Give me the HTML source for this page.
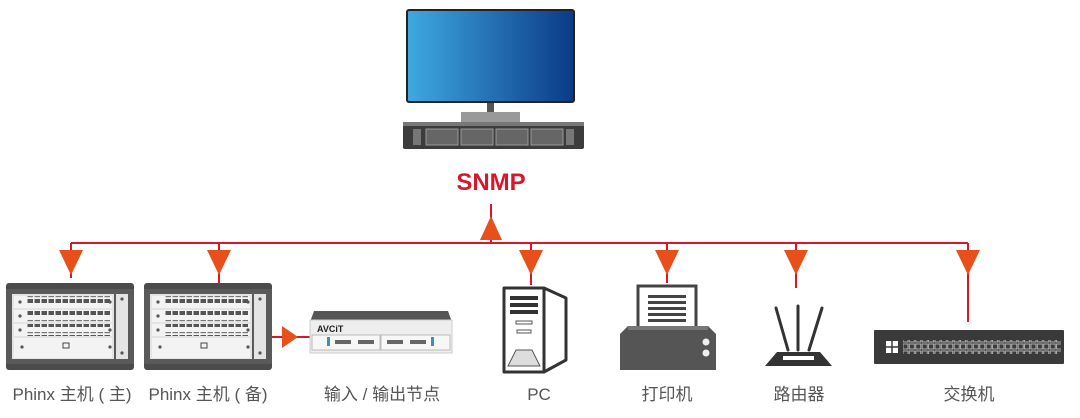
<!DOCTYPE html>
<html><head><meta charset="utf-8"><style>
html,body{margin:0;padding:0;background:#fff;}
svg{display:block}
text{font-family:"Liberation Sans","Noto Sans CJK SC",sans-serif;}
</style></head><body>
<svg width="1080" height="418" viewBox="0 0 1080 418" xmlns="http://www.w3.org/2000/svg">
<defs>
<linearGradient id="scr" x1="0" x2="1" y1="0" y2="0">
<stop offset="0" stop-color="#3fa9e0"/><stop offset="1" stop-color="#0b3a86"/>
</linearGradient>
<pattern id="ports" x="0" y="0" width="7" height="12" patternUnits="userSpaceOnUse">
<rect x="0.5" y="1" width="5.5" height="1.2" fill="#777"/>
<rect x="0.5" y="4" width="5.5" height="4" fill="#555"/>
</pattern>
<pattern id="sw" x="0" y="0" width="6.4" height="14" patternUnits="userSpaceOnUse">
<rect x="0.6" y="1" width="5" height="5" fill="none" stroke="#bbb" stroke-width="0.9"/>
<rect x="0.6" y="8" width="5" height="5" fill="none" stroke="#bbb" stroke-width="0.9"/>
</pattern>
<g id="phinx">
<rect x="0" y="0" width="128" height="87" rx="3" fill="#4b4b4b"/>
<rect x="0" y="6" width="128" height="75" fill="#5a5a5a"/>
<rect x="6" y="11" width="102" height="65" fill="#e4e4e4"/>
<rect x="110" y="11" width="12" height="65" fill="#e4e4e4"/>
<rect x="8" y="13" width="98" height="12" fill="#f3f3f3"/>
<rect x="8" y="27" width="98" height="12" fill="#f3f3f3"/>
<rect x="8" y="41" width="98" height="12" fill="#f3f3f3"/>
<rect x="8" y="55" width="98" height="20" fill="#f3f3f3"/>
<rect x="20" y="13" width="84" height="12" fill="url(#ports)"/>
<rect x="20" y="27" width="84" height="12" fill="url(#ports)"/>
<rect x="20" y="41" width="84" height="12" fill="url(#ports)"/>
<circle cx="14" cy="19" r="1.6" fill="#555"/><circle cx="14" cy="33" r="1.6" fill="#555"/><circle cx="14" cy="47" r="1.6" fill="#555"/>
<circle cx="104" cy="19" r="1.6" fill="#555"/><circle cx="104" cy="47" r="1.6" fill="#555"/>
<rect x="57" y="60" width="6" height="5" fill="none" stroke="#444" stroke-width="1"/>
<circle cx="16" cy="64" r="1.6" fill="#555"/><circle cx="104" cy="64" r="1.6" fill="#555"/>
<circle cx="116" cy="16" r="1.6" fill="#555"/><circle cx="116" cy="70" r="1.6" fill="#555"/>
</g>
</defs>

<!-- monitor -->
<rect x="407" y="10" width="167" height="92" rx="2" fill="url(#scr)" stroke="#222" stroke-width="2"/>
<rect x="487" y="103" width="7" height="12" fill="#555"/>
<rect x="461" y="112" width="59" height="11" fill="#999"/>
<rect x="403" y="122" width="181" height="27" rx="2" fill="#3c3c3c"/>
<rect x="403" y="122" width="181" height="4" fill="#777"/>
<rect x="413" y="129" width="8" height="16" fill="#777"/>
<rect x="426" y="129" width="32" height="16" fill="#666" stroke="#999"/>
<rect x="461" y="129" width="32" height="16" fill="#666" stroke="#999"/>
<rect x="496" y="129" width="32" height="16" fill="#666" stroke="#999"/>
<rect x="531" y="129" width="32" height="16" fill="#666" stroke="#999"/>
<rect x="566" y="129" width="8" height="16" fill="#777"/>

<text x="491" y="190" font-size="24" font-weight="bold" fill="#d7182a" text-anchor="middle">SNMP</text>

<!-- lines -->
<g stroke="#d7182a" stroke-width="2" fill="none">
<line x1="71" y1="243" x2="968" y2="243"/>
<line x1="491" y1="204" x2="491" y2="243"/>
<line x1="71" y1="243" x2="71" y2="278"/>
<line x1="219" y1="243" x2="219" y2="283"/>
<line x1="531" y1="243" x2="531" y2="285"/>
<line x1="667" y1="243" x2="667" y2="283"/>
<line x1="796" y1="243" x2="796" y2="288"/>
<line x1="968" y1="243" x2="968" y2="322"/>
<line x1="272" y1="337" x2="310" y2="337"/>
</g>
<g fill="#e8501b">
<polygon points="480,240 502,240 491,216"/>
<polygon points="59,250 83,250 71,275"/>
<polygon points="207,250 231,250 219,275"/>
<polygon points="519,250 543,250 531,275"/>
<polygon points="655,250 679,250 667,275"/>
<polygon points="784,250 808,250 796,275"/>
<polygon points="956,250 980,250 968,275"/>
<polygon points="282,326 282,348 298,337"/>
</g>

<use href="#phinx" x="6" y="283"/>
<use href="#phinx" x="144" y="283"/>

<!-- IO node -->
<polygon points="314,311 448,311 452,322 310,322" fill="#555"/>
<rect x="310" y="320" width="142" height="33" fill="#eee" stroke="#ccc"/>
<text x="317" y="332" font-size="9" font-weight="bold" fill="#222">AVCiT</text>
<rect x="312" y="335" width="68" height="15" fill="#f7f7f7" stroke="#bbb"/>
<rect x="381" y="335" width="69" height="15" fill="#f7f7f7" stroke="#bbb"/>
<rect x="327" y="337" width="3" height="9" fill="#3a8fc4"/>
<rect x="431" y="337" width="3" height="9" fill="#3a8fc4"/>
<rect x="335" y="340" width="16" height="4" fill="#666"/><rect x="358" y="340" width="16" height="4" fill="#666"/>
<rect x="387" y="340" width="16" height="4" fill="#666"/><rect x="410" y="340" width="16" height="4" fill="#666"/>

<!-- PC -->
<path d="M504 288 h40 l22 10 v62 l-22 12 h-40 z" fill="#fff" stroke="#333" stroke-width="3" stroke-linejoin="round"/>
<line x1="544" y1="288" x2="544" y2="372" stroke="#333" stroke-width="3"/>
<rect x="510" y="296" width="28" height="4" fill="#333"/><rect x="510" y="303" width="28" height="4" fill="#333"/><rect x="510" y="310" width="28" height="4" fill="#333"/>
<rect x="516" y="321" width="16" height="3" fill="none" stroke="#555"/><rect x="517" y="330" width="14" height="3" fill="none" stroke="#555"/>
<path d="M508 366 l8 -16 h16 l8 16 z" fill="#ddd" stroke="#555"/>

<!-- printer -->
<rect x="638" y="286" width="58" height="42" fill="#fff" stroke="#444" stroke-width="3"/>
<g fill="#444"><rect x="648" y="295" width="38" height="3"/><rect x="648" y="301" width="38" height="3"/><rect x="648" y="307" width="38" height="3"/><rect x="648" y="313" width="38" height="3"/><rect x="648" y="319" width="38" height="3"/></g>
<path d="M620 334 l8 -8 h80 l8 8 v36 h-96 z" fill="#555"/>
<rect x="628" y="326" width="80" height="4" fill="#777"/>
<circle cx="706" cy="342" r="3.5" fill="#eee"/><circle cx="706" cy="353" r="3.5" fill="#eee"/>

<!-- router -->
<g stroke="#333" stroke-width="3" stroke-linecap="round">
<line x1="776" y1="308" x2="788" y2="350"/><line x1="798" y1="306" x2="798" y2="350"/><line x1="822" y1="308" x2="809" y2="350"/>
</g>
<path d="M777 352 h43 l12 14 h-67 z" fill="#333"/>
<rect x="783" y="356" width="31" height="4" fill="#fff"/>

<!-- switch -->
<rect x="874" y="330" width="190" height="34" rx="1" fill="#3a3a3a"/>
<rect x="886" y="341" width="12" height="12" fill="#fff"/>
<line x1="892" y1="341" x2="892" y2="353" stroke="#3a3a3a" stroke-width="1.5"/><line x1="886" y1="347" x2="898" y2="347" stroke="#3a3a3a" stroke-width="1.5"/>
<rect x="903" y="340" width="158" height="14" fill="url(#sw)"/>

<!-- labels -->
<g font-size="17" fill="#555" text-anchor="middle">
<text x="72" y="400">Phinx 主机 ( 主)</text>
<text x="208" y="400">Phinx 主机 ( 备)</text>
<text x="382" y="400">输入 / 输出节点</text>
<text x="539" y="400">PC</text>
<text x="667" y="400">打印机</text>
<text x="799" y="400">路由器</text>
<text x="969" y="400">交换机</text>
</g>
</svg>
</body></html>
